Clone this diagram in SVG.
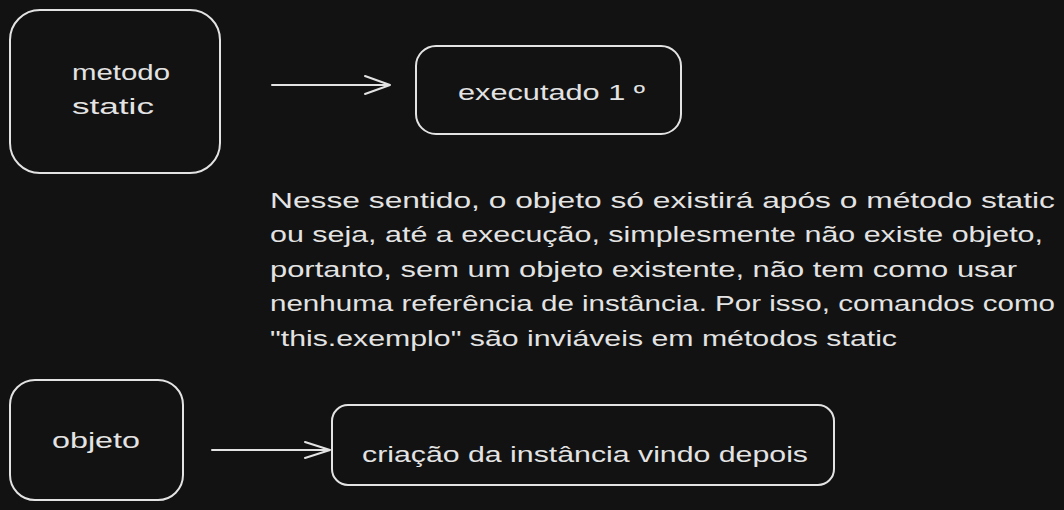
<svg xmlns="http://www.w3.org/2000/svg" width="1064" height="510" viewBox="0 0 1064 510">
<style>
.box{fill:none;stroke:#e3e3e3;stroke-width:2;stroke-linecap:round;stroke-linejoin:round}
.ln{fill:none;stroke:#e3e3e3;stroke-width:2;stroke-linecap:round;stroke-linejoin:round}
.t{font-family:"Liberation Sans","Noto Sans",sans-serif;font-size:22px;fill:#e3e3e3}
</style>
<rect width="1064" height="510" fill="#121212"/>
<g id="node-metodo-static">
<rect class="box" x="10" y="10" width="210" height="163" rx="30"/>
<text class="t" x="72" y="80" textLength="98" lengthAdjust="spacingAndGlyphs">metodo</text>
<text class="t" x="72" y="114" textLength="82" lengthAdjust="spacingAndGlyphs">static</text>
</g>
<g id="node-executado">
<rect class="box" x="416" y="46" width="265" height="88" rx="20"/>
<text class="t" x="458" y="100" textLength="187" lengthAdjust="spacingAndGlyphs">executado 1 º</text>
</g>
<g id="note">
<text class="t" x="270" y="208" textLength="785" lengthAdjust="spacingAndGlyphs">Nesse sentido, o objeto só existirá após o método static</text>
<text class="t" x="270" y="242" textLength="773" lengthAdjust="spacingAndGlyphs">ou seja, até a execução, simplesmente não existe objeto,</text>
<text class="t" x="270" y="277" textLength="747" lengthAdjust="spacingAndGlyphs">portanto, sem um objeto existente, não tem como usar</text>
<text class="t" x="270" y="311" textLength="785" lengthAdjust="spacingAndGlyphs">nenhuma referência de instância. Por isso, comandos como</text>
<text class="t" x="270" y="346" textLength="627" lengthAdjust="spacingAndGlyphs">"this.exemplo" são inviáveis em métodos static</text>
</g>
<g id="node-objeto">
<rect class="box" x="10" y="380" width="173" height="120" rx="25"/>
<text class="t" x="52" y="448" textLength="88" lengthAdjust="spacingAndGlyphs">objeto</text>
</g>
<g id="node-criacao">
<rect class="box" x="332" y="405" width="502" height="80" rx="16"/>
<text class="t" x="362" y="462" textLength="446" lengthAdjust="spacingAndGlyphs">criação da instância vindo depois</text>
</g>
<g id="connectors">
<path class="ln" d="M272 85 L390 85 M365 76 L390 85 L365 94"/>
<path class="ln" d="M212 450 L330 450 M305 442 L330 450 L305 458"/>
</g>
</svg>
